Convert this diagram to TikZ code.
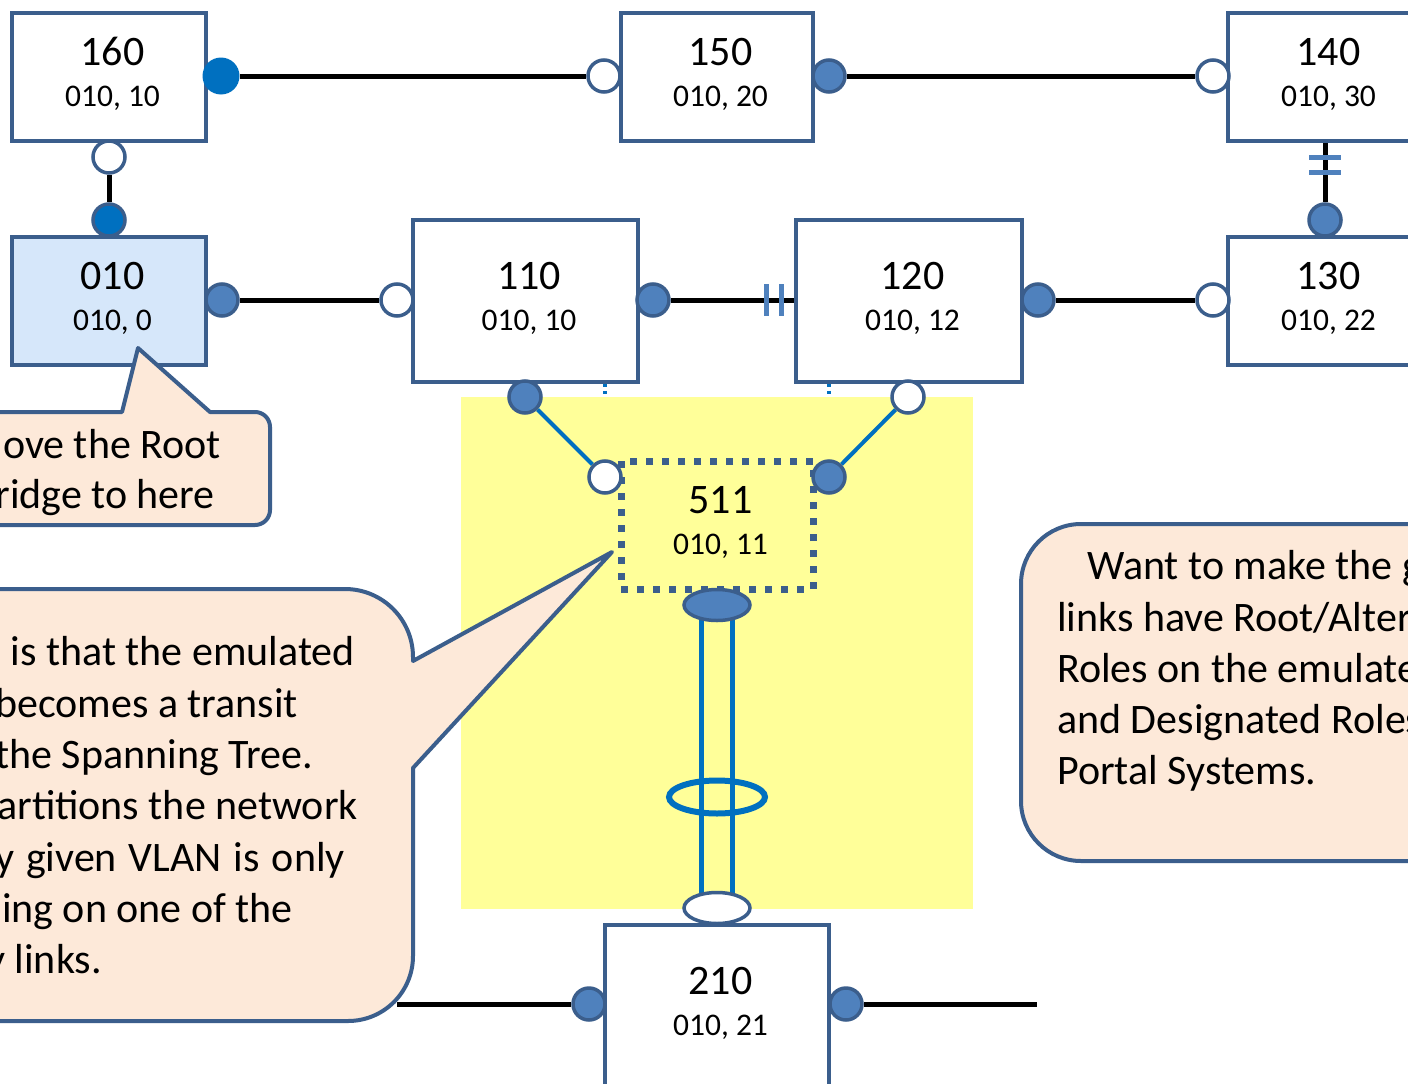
\documentclass[tikz,border=0pt]{standalone}
\usepackage{fontspec}
\setmainfont{Carlito}
\usetikzlibrary{shapes.geometric}
\pgfdeclarelayer{back}
\pgfdeclarelayer{wires}
\pgfsetlayers{back,wires,main}

\definecolor{frame}{HTML}{3B5E8C}
\definecolor{portblue}{HTML}{4F81BD}
\definecolor{linkblue}{HTML}{0070C0}
\definecolor{notefill}{HTML}{FDE9D9}
\definecolor{zone}{HTML}{FFFF99}
\definecolor{rootfill}{HTML}{D6E7FA}

\tikzset{
  bridge/.style={rectangle, draw=frame, line width=3.5pt, fill=white, inner sep=0pt},
  idbig/.style={font=\fontsize{42}{50}\selectfont, inner sep=0pt, anchor=base, xshift=3.5pt},
  idsmall/.style={font=\fontsize{31.5}{38}\selectfont, inner sep=0pt, anchor=base, xshift=3.5pt},
  openport/.style={circle, draw=frame, line width=3.5pt, fill=white, minimum size=32pt, inner sep=0pt},
  fullport/.style={circle, draw=frame, line width=3.5pt, fill=portblue, minimum size=32pt, inner sep=0pt},
  lagport/.style={ellipse, draw=frame, line width=3.5pt, minimum width=66pt, minimum height=31pt, inner sep=0pt},
  wire/.style={line width=5pt, black},
  bluewire/.style={line width=4pt, linkblue},
  lagwire/.style={line width=5pt, linkblue},
  hidden/.style={line width=4pt, linkblue, dash pattern=on 3pt off 4pt},
  tick/.style={line width=5pt, portblue},
  note/.style={draw=frame, line width=4pt, fill=notefill, line join=round},
  notetext/.style={font=\fontsize{42}{51}\selectfont, inner sep=0pt},
}

\begin{document}
\begin{tikzpicture}[x=1pt, y=-1pt]
\useasboundingbox (0,0) rectangle (1408,1084);
\clip (0,0) rectangle (1408,1084);

% bridges
\node[bridge, minimum width=194pt, minimum height=128pt] (b160) at (109,77) {};
\node[bridge, minimum width=192pt, minimum height=128pt] (b150) at (717,77) {};
\node[bridge, minimum width=194pt, minimum height=128pt] (b140) at (1325,77) {};
\node[bridge, fill=rootfill, minimum width=194pt, minimum height=128pt] (b010) at (109,301) {};
\node[bridge, minimum width=225pt, minimum height=162pt] (b110) at (525.5,301) {};
\node[bridge, minimum width=226pt, minimum height=162pt] (b120) at (909,301) {};
\node[bridge, minimum width=194pt, minimum height=128pt] (b130) at (1325,301) {};
\node[rectangle, draw=frame, line width=7pt, dash pattern=on 7pt off 9pt,
      minimum width=192pt, minimum height=128pt, inner sep=0pt] (b511) at (717,525) {};
\node[bridge, minimum width=224pt, minimum height=162pt] (b210) at (717,1006) {};

% bridge identifiers
\node[idbig] (t160) at (109,65) {160};   \node[idsmall] (s160) at (109,106) {010, 10};
\node[idbig] (t150) at (717,65) {150};   \node[idsmall] (s150) at (717,106) {010, 20};
\node[idbig] (t140) at (1325,65) {140};  \node[idsmall] (s140) at (1325,106) {010, 30};
\node[idbig] (t010) at (109,289) {010};  \node[idsmall] (s010) at (109,330) {010, 0};
\node[idbig] (t110) at (525.5,289) {110}; \node[idsmall] (s110) at (525.5,330) {010, 10};
\node[idbig] (t120) at (909,289) {120};  \node[idsmall] (s120) at (909,330) {010, 12};
\node[idbig] (t130) at (1325,289) {130}; \node[idsmall] (s130) at (1325,330) {010, 22};
\node[idbig] (t511) at (717,513) {511};  \node[idsmall] (s511) at (717,554) {010, 11};
\node[idbig] (t210) at (717,994) {210};  \node[idsmall] (s210) at (717,1035) {010, 21};

% ports
\node[circle, fill=linkblue, minimum size=37pt, inner sep=0pt] (p160r) at (221,76) {};
\node[openport] (p150l) at (604,76) {};
\node[fullport] (p150r) at (829,76) {};
\node[openport] (p140l) at (1213,76) {};
\node[openport] (p160b) at (109,157) {};
\node[fullport, fill=linkblue] (p010t) at (109,220) {};
\node[fullport] (p010r) at (222,300) {};
\node[openport] (p110l) at (397,300) {};
\node[fullport] (p110r) at (653,300) {};
\node[fullport] (p120r) at (1038,300) {};
\node[openport] (p130l) at (1213,300) {};
\node[fullport] (p130t) at (1325,220) {};
\node[fullport] (p110b) at (525,397) {};
\node[openport] (p120b) at (908,397) {};
\node[openport] (p511l) at (605,477) {};
\node[fullport] (p511r) at (829,477) {};
\node[lagport, fill=portblue] (p511b) at (717,605) {};
\node[lagport, fill=white] (p210t) at (717,908) {};
\node[fullport] (p210l) at (589,1004) {};
\node[fullport] (p210r) at (846,1004) {};
\node[ellipse, draw=linkblue, line width=6pt, minimum width=96pt, minimum height=33pt, inner sep=0pt] (lag) at (717,797) {};

\coordinate (e210l) at (397,1004);
\coordinate (e210r) at (1037,1004);

% background: page, hidden links, emulated system area
\begin{pgfonlayer}{back}
  \fill[white] (0,0) rectangle (1408,1084);
  \draw[hidden] (b110.south -| p511l) -- (p511l);
  \draw[hidden] (b120.south -| p511r) -- (p511r);
  \fill[zone] (461,397) rectangle (973,909);
\end{pgfonlayer}

% links
\begin{pgfonlayer}{wires}
  \draw[wire] (p160r) -- (p150l);
  \draw[wire] (p150r) -- (p140l);
  \draw[wire] (p160b) -- (p010t);
  \draw[wire] (p010r) -- (p110l);
  \draw[wire] (p110r) -- (p110r -| b120.west);
  \draw[wire] (p120r) -- (p130l);
  \draw[wire] (b140.south -| p130t) -- (p130t);
  \draw[wire] (p210l) -- (e210l);
  \draw[wire] (p210r) -- (e210r);
  \draw[bluewire] (p110b) -- (p511l);
  \draw[bluewire] (p120b) -- (p511r);
  \draw[lagwire] ([xshift=-15.5pt]p511b.center) -- ([xshift=-15.5pt]p210t.center);
  \draw[lagwire] ([xshift=15.5pt]p511b.center) -- ([xshift=15.5pt]p210t.center);
\end{pgfonlayer}

% blocked-port marks
\draw[tick] (766,284) -- (766,316);
\draw[tick] (781,284) -- (781,316);
\draw[tick] (1309,157) -- (1341,157);
\draw[tick] (1309,172) -- (1341,172);

% callouts
\draw[note] (-30,412) -- (122,412) -- (138,348) -- (210,412) -- (255,412)
  .. controls (263.3,412) and (270,418.7) .. (270,427) -- (270,510)
  .. controls (270,518.3) and (263.3,525) .. (255,525) -- (-30,525) -- cycle;
\node[notetext, anchor=base east] (n1a) at (221,458) {Move the Root};
\node[notetext, anchor=base east] (n1b) at (215,508) {Bridge to here};

\draw[note] (-30,589) -- (345,589)
  .. controls (382.5,589) and (413,619.5) .. (413,657) -- (413,661)
  -- (612,552) -- (413,768) -- (413,956)
  .. controls (413,991.9) and (383.9,1021) .. (348,1021) -- (-30,1021) -- cycle;
\node[notetext, anchor=base east] (n2a) at (355,665) {is that the emulated};
\node[notetext, anchor=base east] (n2b) at (298,717) {becomes a transit};
\node[notetext, anchor=base east] (n2c) at (313,768) {the Spanning Tree.};
\node[notetext, anchor=base east] (n2d) at (358,819) {partitions the network};
\node[notetext, anchor=base east] (n2e) at (345,871) {\spaceskip=12pt any given VLAN is only};
\node[notetext, anchor=base east] (n2f) at (293,922) {forwarding on one of the};
\node[notetext, anchor=base east] (n2g) at (102,973) {gateway links.};

\draw[note] (1450,524) -- (1081,524)
  .. controls (1047.9,524) and (1021,550.9) .. (1021,584) -- (1021,801)
  .. controls (1021,834.1) and (1047.9,861) .. (1081,861) -- (1450,861) -- cycle;
\node[notetext, anchor=base west] (n3a) at (1087,579) {Want to make the gateway};
\node[notetext, anchor=base west] (n3b) at (1057,631) {links have Root/Alternate};
\node[notetext, anchor=base west] (n3c) at (1057,682) {Roles on the emulated};
\node[notetext, anchor=base west] (n3d) at (1057,733) {and Designated Roles};
\node[notetext, anchor=base west] (n3e) at (1057,784) {Portal Systems.};
\end{tikzpicture}
\end{document}
